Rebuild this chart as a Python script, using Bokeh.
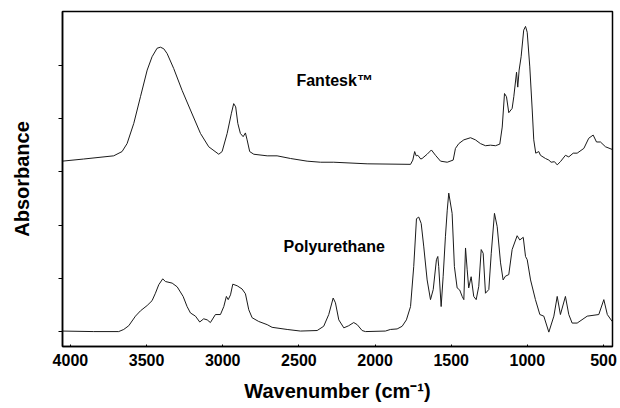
from bokeh.plotting import figure
from bokeh.models import Range1d, FixedTicker, Label
from bokeh.embed import file_html
from bokeh.resources import INLINE

# Fantesk spectrum (wavenumber, absorbance in arbitrary tick units, offset)
fantesk_wn = [4054, 3913, 3716, 3661, 3628, 3584, 3540, 3496, 3464, 3431, 3409, 3387, 3365, 3322,
              3267, 3212, 3146, 3092, 3026, 3004, 2971, 2943, 2928, 2915, 2901, 2884, 2866, 2851,
              2840, 2823, 2796, 2708, 2643, 2555, 2446, 2358, 2271, 2052, 1767, 1752, 1740, 1730,
              1719, 1700, 1691, 1658, 1630, 1603, 1570, 1526, 1487, 1472, 1450, 1417, 1373, 1341,
              1308, 1275, 1242, 1209, 1181, 1165, 1150, 1137, 1122, 1100, 1089, 1071, 1063, 1054,
              1041, 1024, 1012, 1001, 984, 968, 958, 945, 925, 914, 881, 859, 844, 822, 804, 783,
              750, 728, 699, 673, 629, 597, 568, 546, 520, 487, 443]
fantesk_abs = [3.20, 3.24, 3.30, 3.38, 3.53, 3.91, 4.41, 4.91, 5.16, 5.32, 5.34, 5.31, 5.22, 4.94,
               4.53, 4.16, 3.72, 3.47, 3.33, 3.38, 3.72, 4.10, 4.28, 4.22, 3.91, 3.72, 3.66, 3.73,
               3.60, 3.38, 3.33, 3.30, 3.30, 3.25, 3.20, 3.18, 3.18, 3.15, 3.14, 3.22, 3.38, 3.30,
               3.31, 3.24, 3.25, 3.33, 3.41, 3.31, 3.20, 3.18, 3.22, 3.44, 3.53, 3.60, 3.64, 3.60,
               3.53, 3.49, 3.50, 3.49, 3.52, 3.84, 4.47, 4.41, 4.11, 4.19, 4.41, 4.87, 4.59, 4.91,
               5.16, 5.66, 5.73, 5.62, 4.97, 4.16, 3.60, 3.35, 3.38, 3.31, 3.25, 3.22, 3.18, 3.19,
               3.13, 3.19, 3.31, 3.28, 3.35, 3.35, 3.44, 3.63, 3.69, 3.56, 3.56, 3.47, 3.42]

# Polyurethane spectrum
pu_wn = [4054, 3847, 3683, 3650, 3617, 3573, 3540, 3496, 3464, 3442, 3420, 3394, 3376, 3332, 3299,
         3260, 3234, 3212, 3179, 3151, 3125, 3102, 3081, 3048, 3015, 2993, 2976, 2964, 2949, 2934,
         2905, 2873, 2851, 2829, 2807, 2764, 2708, 2676, 2577, 2490, 2380, 2337, 2304, 2275, 2260,
         2238, 2205, 2173, 2140, 2117, 2085, 2063, 1932, 1899, 1855, 1822, 1794, 1767, 1746, 1728,
         1713, 1697, 1680, 1658, 1636, 1618, 1597, 1588, 1582, 1566, 1553, 1538, 1526, 1516, 1494,
         1479, 1461, 1444, 1428, 1417, 1406, 1395, 1385, 1369, 1352, 1336, 1319, 1303, 1290, 1275,
         1253, 1237, 1216, 1198, 1176, 1159, 1144, 1122, 1100, 1067, 1050, 1027, 1012, 1001, 979,
         947, 918, 892, 859, 826, 804, 783, 750, 728, 706, 673, 607, 531, 498, 475, 443]
pu_abs = [0.01, 0.00, 0.00, 0.04, 0.11, 0.29, 0.39, 0.49, 0.58, 0.72, 0.88, 0.99, 0.94, 0.91, 0.84,
          0.66, 0.47, 0.35, 0.29, 0.18, 0.24, 0.22, 0.17, 0.32, 0.32, 0.47, 0.66, 0.60, 0.69, 0.89,
          0.86, 0.80, 0.71, 0.41, 0.26, 0.19, 0.13, 0.08, 0.04, 0.01, 0.02, 0.10, 0.32, 0.63, 0.54,
          0.22, 0.07, 0.11, 0.17, 0.13, 0.02, 0.00, 0.01, 0.04, 0.05, 0.10, 0.22, 0.47, 1.22, 2.12,
          2.15, 2.03, 1.59, 0.97, 0.60, 0.79, 1.35, 1.41, 1.22, 0.47, 1.03, 1.78, 2.28, 2.60, 2.22,
          1.22, 0.82, 0.78, 0.66, 0.60, 1.57, 1.16, 0.82, 1.03, 0.66, 0.60, 0.85, 1.54, 1.47, 0.72,
          0.79, 1.47, 2.22, 1.97, 1.29, 0.97, 1.04, 1.07, 1.54, 1.80, 1.72, 1.77, 1.41, 1.35, 0.97,
          0.60, 0.32, 0.29, -0.01, 0.29, 0.66, 0.32, 0.66, 0.32, 0.16, 0.16, 0.29, 0.32, 0.60, 0.32,
          0.19]

x_ticks = [4000, 3500, 3000, 2500, 2000, 1500, 1000, 500]
y_ticks = [0, 1, 2, 3, 4, 5]
series_names = ["Fantesk\u2122", "Polyurethane"]
series_label_pos = [(2516, 4.72), (2601, 1.60)]

FONT = "Liberation Sans"

p = figure(width=620, height=408, output_backend="svg", toolbar_location=None,
           x_range=Range1d(4052, 441), y_range=Range1d(-0.28, 6.01),
           min_border_left=62, min_border_right=8, min_border_top=11, min_border_bottom=62)
p.background_fill_color = "white"
p.border_fill_color = "white"
p.grid.visible = False
p.outline_line_color = "black"
p.outline_line_width = 1.5

p.line(fantesk_wn, fantesk_abs, line_color="#1a1a1a", line_width=1)
p.line(pu_wn, pu_abs, line_color="#1a1a1a", line_width=1)

for name, (lx, ly) in zip(series_names, series_label_pos):
    p.add_layout(Label(x=lx, y=ly, text=name, text_font=FONT, text_font_style="bold",
                       text_font_size="16px", text_align="left", text_baseline="middle",
                       text_color="black"))

p.xaxis.ticker = FixedTicker(ticks=x_ticks)
p.yaxis.ticker = FixedTicker(ticks=y_ticks)
p.xaxis.minor_tick_line_color = None
p.yaxis.minor_tick_line_color = None
p.xaxis.major_tick_out = 0
p.xaxis.major_tick_in = 2
p.yaxis.major_tick_out = 4
p.yaxis.major_tick_in = 0
p.axis.axis_line_width = 1.5
p.axis.axis_line_color = "black"
p.axis.major_tick_line_color = "black"

p.yaxis.major_label_overrides = {t: "" for t in y_ticks}
p.yaxis.major_label_standoff = 0
p.xaxis.major_label_text_font = FONT
p.xaxis.major_label_text_font_style = "bold"
p.xaxis.major_label_text_font_size = "16px"
p.xaxis.major_label_text_color = "black"
p.xaxis.major_label_standoff = 7

p.xaxis.axis_label = "Wavenumber (cm\u207b\u00b9)"
p.yaxis.axis_label = "Absorbance"
p.axis.axis_label_text_font = FONT
p.axis.axis_label_text_font_style = "bold"
p.axis.axis_label_text_font_size = "20px"
p.axis.axis_label_text_color = "black"
p.xaxis.axis_label_standoff = 11
p.yaxis.axis_label_standoff = 26

open("out.html", "w").write(file_html(p, INLINE))
